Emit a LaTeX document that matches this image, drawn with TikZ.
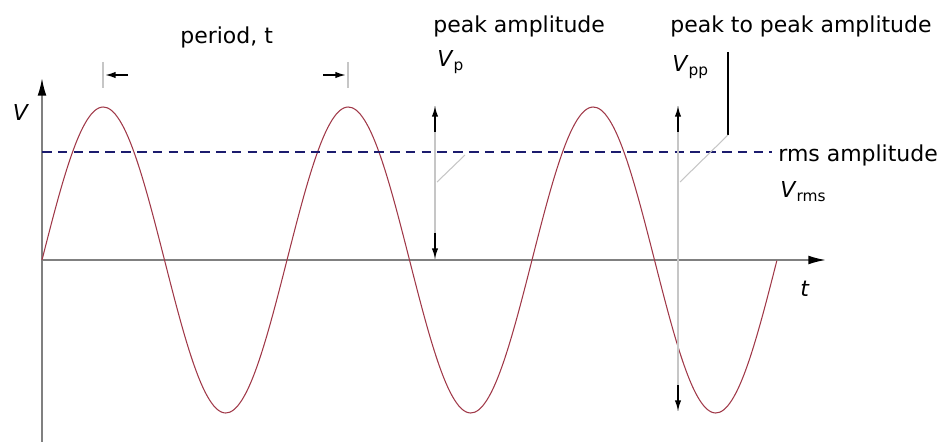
\documentclass[tikz,border=0pt]{standalone}
\usepackage{fontspec}
\setmainfont{DejaVu Sans}
\usetikzlibrary{arrows.meta}
\definecolor{sineColor}{HTML}{A03848}
\definecolor{rmsColor}{HTML}{1C1C6E}
\definecolor{axisColor}{HTML}{808080}

\begin{document}
\begin{tikzpicture}[x=0.02cm, y=-0.02cm,
    lbl/.style={anchor=base west, inner sep=0pt, font=\fontsize{12.5}{15}\selectfont},
    axis/.style={axisColor, line width=1pt},
    tip/.style={-{Latex[length=6pt,width=3.6pt]}, black, line width=0.9pt},
    guide/.style={gray!45, line width=0.6pt}]
    \useasboundingbox (0,0) rectangle (943,442);
    % axes
    \coordinate (O) at (42,260);
    \coordinate (ytop) at (42,78);
    \coordinate (ybot) at (42,442);
    \coordinate (xend) at (826,260);
    \draw[axis, -{Latex[black,length=10pt,width=5pt]}] (ybot) -- (ytop);
    \draw[axis, -{Latex[black,length=10pt,width=5pt]}] (O) -- (xend);
    \node[lbl, anchor=center] (vlab) at (21,112) {\textit{V}};
    \node[lbl, anchor=center] (tlab) at (805,289) {\textit{t}};
    % signal and rms level
    \draw[sineColor, line width=0.6pt, domain=0:3, samples=181, smooth]
        plot ({42+245*\x}, {260-153*sin(360*\x)});
    \coordinate (rmsA) at (42,152);
    \coordinate (rmsB) at (772,152);
    \draw[rmsColor, line width=1.1pt, dash pattern=on 5.5pt off 3.5pt] (rmsA) -- (rmsB);
    % period
    \foreach \px/\dir in {103/1, 348/-1} {
        \draw[guide] (\px,62) -- (\px,88);
        \draw[tip] (\px+25*\dir,75) -- (\px+2*\dir,75);
    }
    \node[lbl] (period) at (180,44) {period, t};
    % peak amplitude
    \coordinate (pkTop) at (435,106);
    \coordinate (pkBot) at (435,259);
    \draw[guide] (pkTop) -- (pkBot);
    \draw[tip] (435,132) -- (pkTop);
    \draw[tip] (435,233) -- (pkBot);
    \draw[guide] (437,182) -- (465,155);
    \node[lbl] (peakamp) at (433,33) {peak amplitude};
    \node[lbl] (vp) at (437,67) {\textit{V}\textsubscript{p}};
    % peak to peak amplitude
    \coordinate (ppTop) at (678,106);
    \coordinate (ppBot) at (678,411);
    \draw[guide] (ppTop) -- (ppBot);
    \draw[tip] (678,132) -- (ppTop);
    \draw[tip] (678,385) -- (ppBot);
    \coordinate (ldA) at (728,52);
    \coordinate (ldB) at (728,135);
    \coordinate (ldC) at (680,182);
    \draw[black, line width=0.9pt] (ldA) -- (ldB);
    \draw[guide] (ldB) -- (ldC);
    \node[lbl] (ppamp) at (670,33) {peak to peak amplitude};
    \node[lbl] (vpp) at (672,72) {\textit{V}\textsubscript{pp}};
    % rms amplitude
    \node[lbl] (rmsamp) at (778,162) {rms amplitude};
    \node[lbl] (vrms) at (780,198) {\textit{V}\textsubscript{rms}};
\end{tikzpicture}
\end{document}
